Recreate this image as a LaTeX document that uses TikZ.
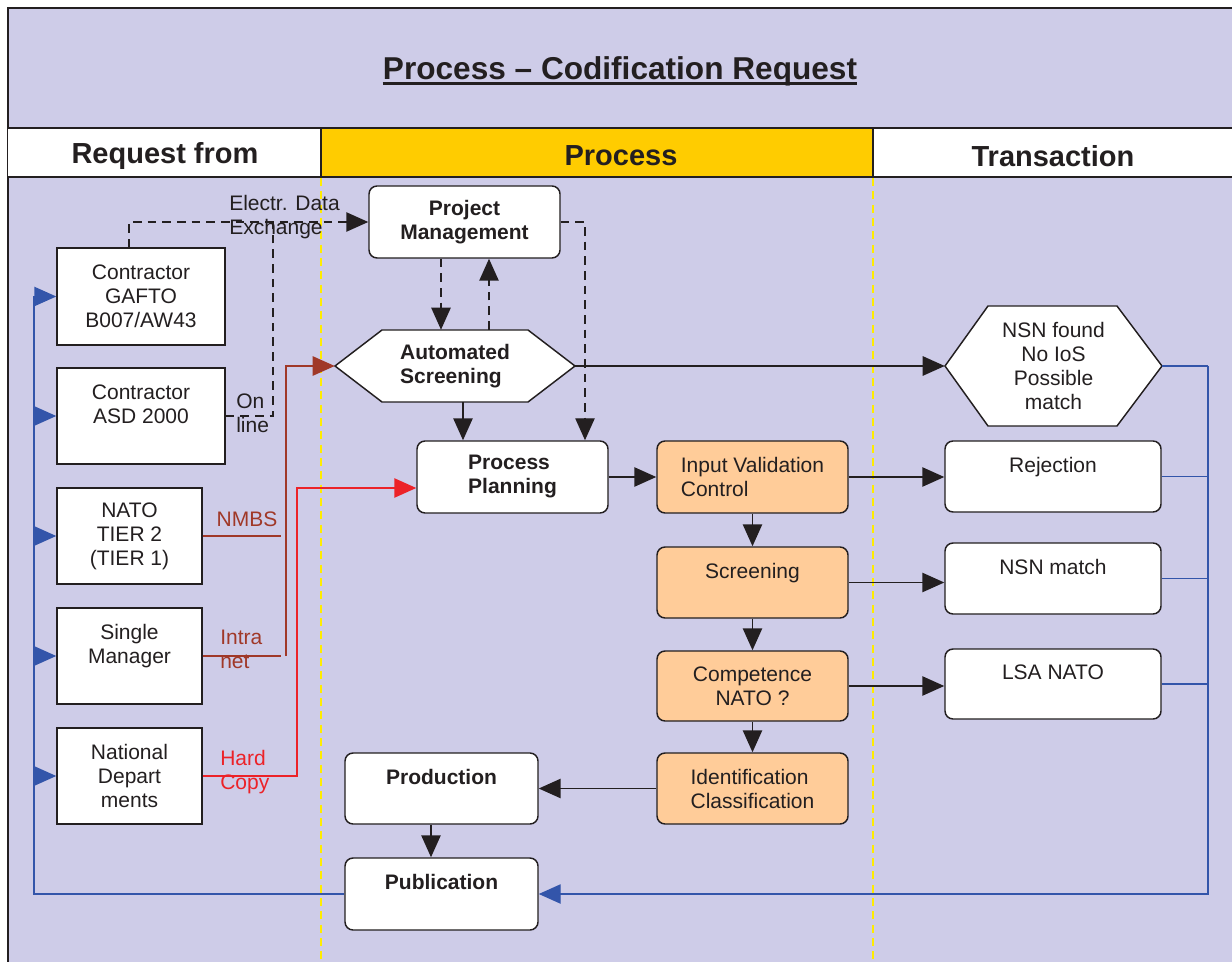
\documentclass[tikz,border=0pt]{standalone}
\usepackage{fontspec}
\setmainfont{Liberation Sans}
\usetikzlibrary{arrows.meta,calc}
\definecolor{lav}{RGB}{206,204,232}
\definecolor{orng}{RGB}{255,204,153}
\definecolor{gold}{RGB}{255,204,0}
\definecolor{bluel}{RGB}{51,85,170}
\definecolor{brn}{RGB}{160,56,40}
\definecolor{redl}{RGB}{236,34,40}
\definecolor{ylw}{RGB}{255,236,0}
\definecolor{ink}{RGB}{35,31,32}
\begin{document}
\begin{tikzpicture}[x=0.75pt,y=-0.75pt,
  body/.style={font=\fontsize{15.75}{18}\selectfont},
  bf/.style={font=\fontsize{15.75}{18}\selectfont\bfseries},
  sqbox/.style={draw=ink, fill=white, line width=1.1pt, inner sep=0pt, align=center, text=ink, body},
  rbox/.style={sqbox, rounded corners=6pt},
  obox/.style={rbox, fill=orng},
  hexs/.style={draw=ink, fill=white, line width=1.1pt, line join=miter},
  hexlbl/.style={inner sep=0pt, align=center, text=ink, body},
  lbl/.style={inner sep=0pt, align=left, body},
  tip/.style={-{Triangle[length=16.5pt,width=14.5pt]}},
  arr/.style={draw=ink, line width=1.2pt, tip},
  dsh/.style={draw=ink, line width=1.1pt, dash pattern=on 6.5pt off 4.5pt},
  brnl/.style={draw=brn, line width=1.1pt},
  redln/.style={draw=redl, line width=1.1pt},
  bll/.style={draw=bluel, line width=1.1pt},
  ydash/.style={draw=ylw, line width=1.3pt, dash pattern=on 6pt off 4pt},
  hdr/.style={inner sep=0pt, text=ink, font=\fontsize{21.75}{26}\selectfont\bfseries}
]
\useasboundingbox (0,0) rectangle (1232,962);
% background and frame
\fill[white] (0,0) rectangle (1232,962);
\fill[lav] (8,8) rectangle (1232,962);
\draw[ink, line width=1.1pt] (1232,8) -- (8,8) -- (8,962);
% header row
\fill[white] (8,128) rectangle (321,177);
\fill[gold] (321,128) rectangle (873,177);
\fill[white] (873,128) rectangle (1232,177);
\draw[ink, line width=1.1pt] (8,128) -- (1232,128) (8,177) -- (1232,177)
  (321,128) -- (321,177) (873,128) -- (873,177);
\node[hdr] (hreq) at (165,156) {Request from};
\node[hdr] (hproc) at (621,156) {Process};
\node[hdr] (htrans) at (1053,156) {Transaction};
% title
\node[inner sep=0pt, text=ink, font=\fontsize{23.7}{28}\selectfont\bfseries, anchor=base] (title) at (620,80) {Process – Codification Request};
\draw[ink, line width=1.8pt] ($(title.base west)+(0,3.5)$) -- ($(title.base east)+(0,3.5)$);
% yellow lane separators
\draw[ydash] (321,178) -- (321,962);
\draw[ydash] (873,178) -- (873,962);

% left column
\node[sqbox, minimum width=126pt, minimum height=72.75pt] (gafto) at (141,296.5) {Contractor\\GAFTO\\B007/AW43};
\node[sqbox, minimum width=126pt, minimum height=72pt] (asd) at (141,416) {Contractor\\ASD 2000\\\mbox{}};
\node[sqbox, minimum width=108.75pt, minimum height=72pt] (nato) at (129.5,536) {NATO\\TIER 2\\(TIER 1)};
\node[sqbox, minimum width=108.75pt, minimum height=72pt] (sm) at (129.5,656) {Single\\Manager\\\mbox{}};
\node[sqbox, minimum width=108.75pt, minimum height=72pt] (nd) at (129.5,776) {National\\Depart\\ments};

% process column
\node[rbox, bf, minimum width=143.25pt, minimum height=54pt] (pm) at (464.5,222) {Project\\Management};
\draw[hexs] (335,366) -- (382,330) -- (528,330) -- (575,366) -- (528,402) -- (382,402) -- cycle;
\node[hexlbl, bf, align=left, minimum width=180pt, minimum height=54pt] (as) at (455,366) {Automated\\Screening};
\node[rbox, bf, align=left, minimum width=143.25pt, minimum height=54pt] (pp) at (512.5,477) {Process\\Planning};
\node[obox, align=left, minimum width=143.25pt, minimum height=54pt] (ivc) at (752.5,477) {Input Validation\\Control};
\node[obox, minimum width=143.25pt, minimum height=53.25pt] (scr) at (752.5,582.5) {Screening\\\mbox{}};
\node[obox, minimum width=143.25pt, minimum height=52.5pt] (comp) at (752.5,686) {Competence\\NATO ?};
\node[obox, align=left, minimum width=143.25pt, minimum height=53.25pt] (ident) at (752.5,788.5) {Identification\\Classification};
\node[rbox, bf, minimum width=144.75pt, minimum height=53.25pt] (prod) at (441.5,788.5) {Production\\\mbox{}};
\node[rbox, bf, minimum width=144.75pt, minimum height=54pt] (pub) at (441.5,894) {Publication\\\mbox{}};

% transaction column
\draw[hexs] (945,366) -- (988,306) -- (1117,306) -- (1162,366) -- (1117,426) -- (988,426) -- cycle;
\node[hexlbl, minimum width=162.75pt, minimum height=90pt] (nsn) at (1053.5,366) {NSN found\\No IoS\\Possible\\match};
\node[rbox, minimum width=162pt, minimum height=53.25pt] (rej) at (1053,476.5) {Rejection\\\mbox{}};
\node[rbox, minimum width=162pt, minimum height=53.25pt] (nsnm) at (1053,578.5) {NSN match\\\mbox{}};
\node[rbox, minimum width=162pt, minimum height=52.5pt] (lsa) at (1053,684) {LSA NATO\\\mbox{}};

% labels
\node[lbl, text=ink, anchor=west] (lede) at (229,217) {Electr. Data\\Exchange};
\node[lbl, text=ink, anchor=west] (lon) at (236,413.5) {On\\line};
\node[lbl, text=brn] (lnmbs) at (247,519) {NMBS};
\node[lbl, text=brn, anchor=west] (lintra) at (220,649) {Intra\\net};
\node[lbl, text=redl, anchor=west] (lhard) at (220,772) {Hard\\Copy};

% dashed connectors
\coordinate (ej) at (273,222);
\draw[dsh, tip, ink] ($(gafto.north)+(-12,0)$) |- (pm.west);
\draw[dsh] (asd.east) -| (ej);
\draw[dsh, tip, ink] ($(pm.south)+(-23.5,0)$) -- ($(as.north)+(-14,0)$);
\draw[dsh, tip, ink] ($(as.north)+(34,0)$) -- ($(pm.south)+(24.5,0)$);
\draw[dsh, tip, ink] (pm.east) -| ($(pp.north)+(72.5,0)$);

% solid connectors
\draw[arr] ($(as.south)+(8,0)$) -- ($(pp.north)+(-49.5,0)$);
\draw[arr] (as.east) -- (nsn.west);
\draw[arr] (pp.east) -- (ivc.west);
\draw[arr] (ivc.east) -- (ivc.east -| rej.west);
\draw[arr] (ivc.south) -- (scr.north);
\draw[arr] (scr.east) -- (scr.east -| nsnm.west);
\draw[arr] (scr.south) -- (comp.north);
\draw[arr] (comp.east) -- (comp.east -| lsa.west);
\draw[arr] (comp.south) -- (ident.north);
\draw[arr] (ident.west) -- (ident.west -| prod.east);
\draw[arr] ($(prod.south)+(-10.5,0)$) -- ($(pub.north)+(-10.5,0)$);

% brown (NMBS / Intranet)
\coordinate (bj) at (286,656);
\draw[brnl] (nato.east) -- ++(78,0);
\draw[brnl] (sm.east) -- ++(78,0);
\draw[brnl, tip, brn] (bj) |- (as.west);

% red (hard copy)
\coordinate (rj) at (297,776);
\draw[redln, tip, redl] (nd.east) -- (rj) |- ($(pp.west)+(0,11)$);

% blue feedback
\coordinate (bl) at (34,894);
\coordinate (br) at (1208,366);
\draw[bll, tip, bluel] (pub.west) -- (bl) |- (gafto.west);
\foreach \n in {asd,nato,sm,nd}
  \draw[bll, tip, bluel] (\n.west -| bl) -- (\n.west);
\draw[bll] (nsn.east) -- (br);
\draw[bll] (rej.east) -- (rej.east -| br);
\draw[bll] (nsnm.east) -- (nsnm.east -| br);
\draw[bll] (lsa.east) -- (lsa.east -| br);
\draw[bll, tip, bluel] (br) |- (pub.east);
\end{tikzpicture}
\end{document}
